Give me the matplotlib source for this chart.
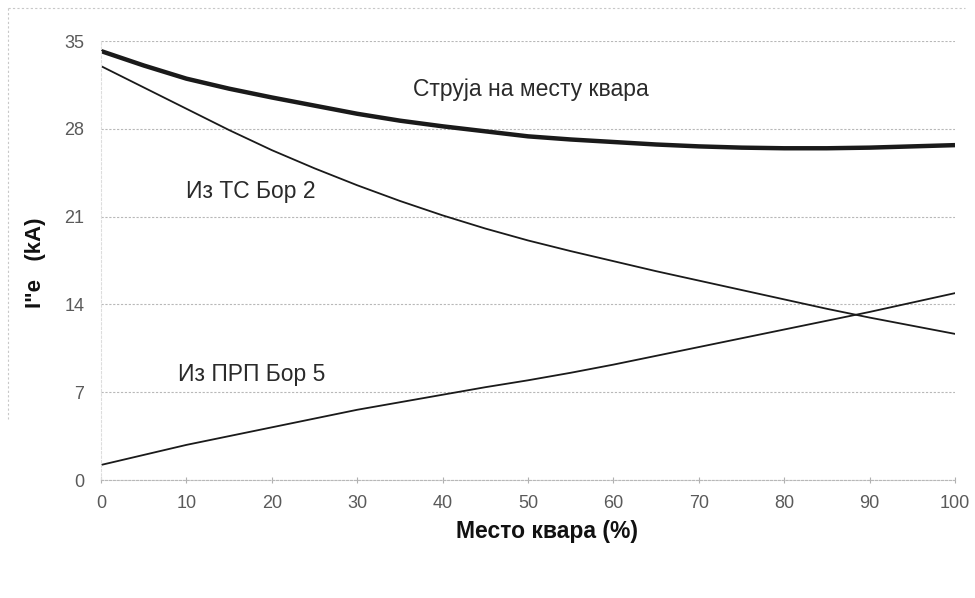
import numpy as np
import matplotlib.pyplot as plt
from matplotlib.lines import Line2D

# values (kA), every 5 % of the line
mesto = [0, 5, 10, 15, 20, 25, 30, 35, 40, 45, 50, 55, 60, 65, 70, 75, 80, 85, 90, 95, 100]
struja_kvar = [34.2, 33.05, 32.0, 31.2, 30.5, 29.85, 29.2, 28.65, 28.2, 27.8, 27.4,
               27.15, 26.95, 26.75, 26.6, 26.5, 26.45, 26.45, 26.5, 26.6, 26.7]
iz_ts_bor2 = [33.0, 31.3, 29.6, 27.9, 26.3, 24.85, 23.5, 22.25, 21.1, 20.05, 19.1,
              18.25, 17.45, 16.65, 15.9, 15.15, 14.4, 13.65, 12.95, 12.3, 11.65]
iz_prp_bor5 = [1.2, 2.0, 2.8, 3.5, 4.2, 4.9, 5.6, 6.2, 6.8, 7.4, 7.95,
               8.55, 9.2, 9.9, 10.6, 11.3, 12.0, 12.7, 13.4, 14.15, 14.9]
x_ticks = [0, 10, 20, 30, 40, 50, 60, 70, 80, 90, 100]
y_ticks = [0, 7, 14, 21, 28, 35]

plt.rcParams['font.family'] = ['Liberation Sans', 'DejaVu Sans']

fig = plt.figure(figsize=(9.75, 5.98), dpi=100)
ax = fig.add_axes([0.1036, 0.1973, 0.8759, 0.7341])

# faint dotted frame left over from the scan (top and left edges only)
fig.add_artist(Line2D([0.008, 0.99], [0.986, 0.986], transform=fig.transFigure,
                      color='#c8c8c8', lw=0.8, ls=(0, (2, 2))))
fig.add_artist(Line2D([0.008, 0.008], [0.986, 0.3], transform=fig.transFigure,
                      color='#c8c8c8', lw=0.8, ls=(0, (2, 2))))

ax.plot(mesto, struja_kvar, color='#1a1a1a', lw=3.2, solid_capstyle='butt')
ax.plot(mesto, iz_ts_bor2, color='#1a1a1a', lw=1.3)
ax.plot(mesto, iz_prp_bor5, color='#1a1a1a', lw=1.3)

ax.set_xlim(0, 100)
ax.set_ylim(0, 35)
ax.set_xticks(x_ticks)
ax.set_yticks(y_ticks)
ax.grid(axis='y', color='#b8b8b8', lw=0.8, ls=(0, (2, 1.5)))
ax.set_axisbelow(True)
for s in ['top', 'right']:
    ax.spines[s].set_visible(False)
ax.spines['left'].set_color('#dddddd')
ax.spines['left'].set_linestyle((0, (2, 2)))
ax.spines['bottom'].set_color('#b8b8b8')
ax.spines['bottom'].set_linestyle((0, (2, 1.5)))
ax.tick_params(axis='both', colors='#b0b0b0', labelcolor='#5a5a5a', labelsize=13)
ax.tick_params(axis='y', length=0, pad=12)
ax.tick_params(axis='x', direction='inout', length=5, pad=8)

ax.text(50.3, 31.1, 'Струја на месту квара', fontsize=16.5, color='#2a2a2a', ha='center', va='center')
ax.text(17.5, 23.0, 'Из ТС Бор 2', fontsize=16.5, color='#2a2a2a', ha='center', va='center')
ax.text(17.6, 8.45, 'Из ПРП Бор 5', fontsize=16.5, color='#2a2a2a', ha='center', va='center')

ax.set_xlabel('Место квара (%)', fontsize=16.5, fontweight='bold', color='#111111')
ax.xaxis.set_label_coords(0.522, -0.092)
ax.set_ylabel('I"e   (kA)', fontsize=16, fontweight='bold', color='#111111')
ax.yaxis.set_label_coords(-0.064, 0.495)

fig.savefig('out.png', dpi=100)
